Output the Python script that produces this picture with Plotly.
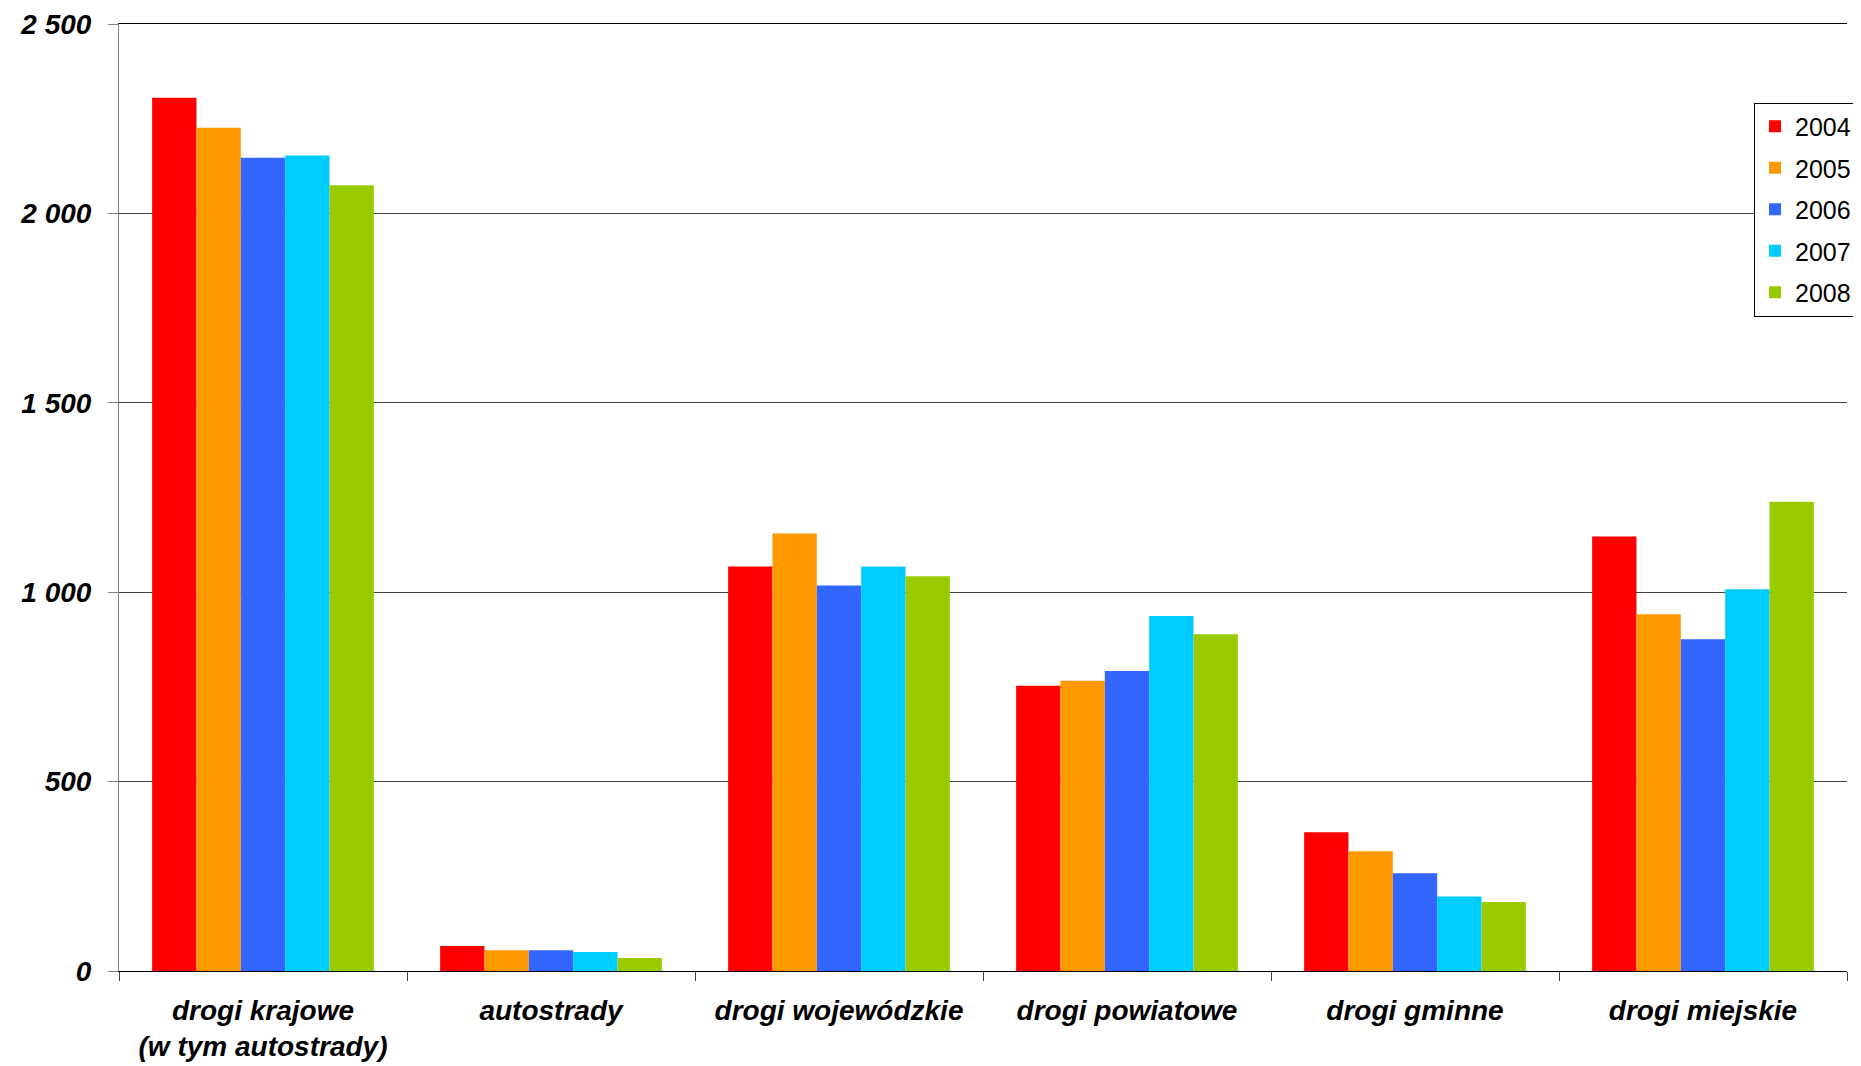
import plotly.graph_objects as go

categories = ["drogi krajowe<br>(w tym autostrady)", "autostrady", "drogi wojewódzkie",
              "drogi powiatowe", "drogi gminne", "drogi miejskie"]
years = ["2004", "2005", "2006", "2007", "2008"]
v2004 = [2305, 66, 1068, 753, 366, 1147]
v2005 = [2226, 55, 1155, 766, 316, 942]
v2006 = [2147, 55, 1018, 792, 258, 876]
v2007 = [2153, 50, 1068, 937, 197, 1008]
v2008 = [2074, 34, 1042, 889, 182, 1239]
series = [v2004, v2005, v2006, v2007, v2008]
colors = ["#FF0000", "#FF9900", "#3366FF", "#00CCFF", "#99CC00"]
y_ticks = [0, 500, 1000, 1500, 2000, 2500]

fig = go.Figure()
for yr, vals, col in zip(years, series, colors):
    fig.add_trace(go.Bar(x=categories, y=vals, name=yr, marker_color=col,
                         marker_line_width=0, legendgroup=yr))

fig.update_layout(
    width=1861, height=1066,
    margin=dict(l=111, r=22, t=16, b=103, autoexpand=False),
    paper_bgcolor="white", plot_bgcolor="rgba(0,0,0,0)",
    barmode="group", bargap=0.23, bargroupgap=0,
    separators=", ",
    font=dict(family="Liberation Sans, Arial, sans-serif", color="black"),
    legend=dict(x=1.0058, xanchor="right", y=0.917, yanchor="top",
                bgcolor="white", bordercolor="black", borderwidth=1,
                font=dict(size=25, family="Liberation Sans, Arial, sans-serif"),
                tracegroupgap=6, itemwidth=30),
    showlegend=True,
)
fig.update_xaxes(
    showline=True, linecolor="black", linewidth=1, mirror=True,
    ticks="outside", tickson="boundaries", ticklen=9, tickcolor="#404040",
    tickfont=dict(size=28, weight="bold", style="italic"),
    showgrid=False, ticklabelstandoff=14, automargin=False,
)
fig.update_yaxes(
    range=[0, 2500], tickvals=y_ticks, tickformat=",d",
    showline=True, linecolor="#808080", linewidth=1,
    ticks="outside", ticklen=10, tickcolor="#808080",
    tickfont=dict(size=28, weight="bold", style="italic"),
    showgrid=True, gridcolor="#404040", gridwidth=1,
    zeroline=False, ticklabelstandoff=11, automargin=False,
    ticklabeloverflow="allow",
)

fig.write_html("out.html")
